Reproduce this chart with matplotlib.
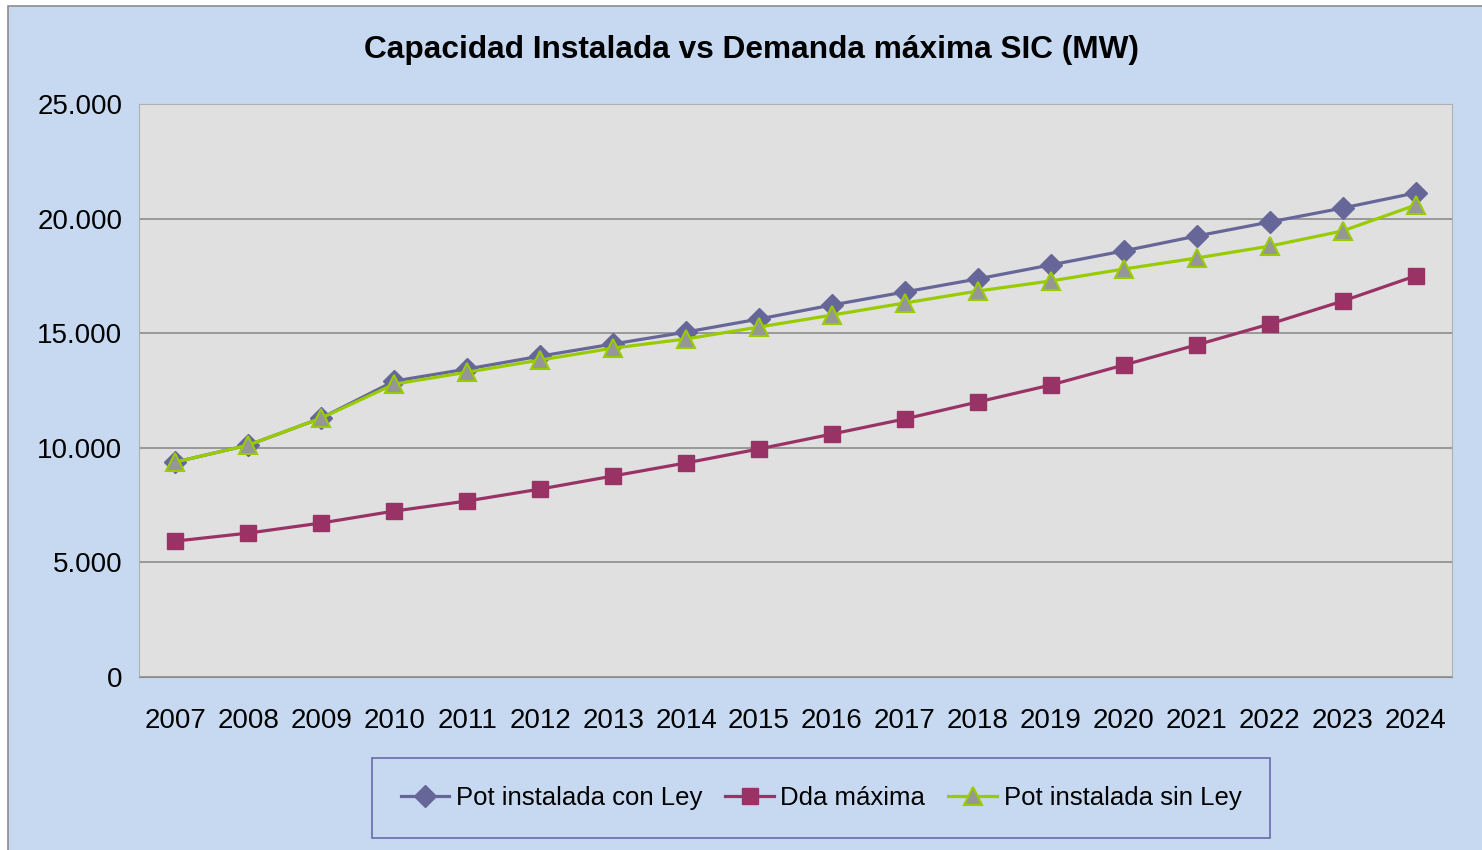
import numpy as np
import matplotlib
matplotlib.use('Agg')
import matplotlib.pyplot as plt
from matplotlib.patches import Rectangle
from matplotlib.ticker import FuncFormatter

# Datos
anios = ['2007', '2008', '2009', '2010', '2011', '2012', '2013', '2014', '2015',
         '2016', '2017', '2018', '2019', '2020', '2021', '2022', '2023', '2024']
pot_con_ley = [9380, 10120, 11300, 12910, 13440, 14000, 14530, 15050, 15620,
               16230, 16800, 17370, 17980, 18590, 19240, 19850, 20460, 21120]
dda_maxima = [5930, 6280, 6720, 7240, 7680, 8200, 8770, 9340, 9950,
              10600, 11260, 12000, 12740, 13610, 14490, 15400, 16400, 17500]
pot_sin_ley = [9380, 10120, 11300, 12780, 13300, 13830, 14350, 14750, 15270,
               15790, 16320, 16840, 17280, 17800, 18280, 18800, 19460, 20590]

plt.rcParams['font.family'] = ['Liberation Sans', 'DejaVu Sans']

W, H = 1482, 850
fig = plt.figure(figsize=(W / 100, H / 100), dpi=100, facecolor='white')

# fondo azul del area del grafico
fig.patches.append(Rectangle((8 / W, -0.05), 1.1, 1 - 6 / H + 0.05,
                             transform=fig.transFigure, facecolor='#C6D9F1',
                             edgecolor='#8C8C8C', linewidth=1.2, zorder=-10))

ax = fig.add_axes([139 / W, 1 - 677 / H, (1452 - 139) / W, (677 - 104) / H])
ax.set_facecolor('#E0E0E0')

x = np.arange(len(anios))
ax.plot(x, pot_con_ley, color='#666699', linewidth=2.3, marker='D', markersize=11,
        markerfacecolor='#666699', markeredgecolor='#666699',
        label='Pot instalada con Ley', zorder=3)
ax.plot(x, dda_maxima, color='#993366', linewidth=2.3, marker='s', markersize=11,
        markerfacecolor='#993366', markeredgecolor='#993366',
        label='Dda máxima', zorder=3)
ax.plot(x, pot_sin_ley, color='#99CC00', linewidth=2.3, marker='^', markersize=13.5,
        markerfacecolor='#969696', markeredgecolor='#99CC00', markeredgewidth=1.5,
        label='Pot instalada sin Ley', zorder=4)

ax.set_xlim(-0.5, len(anios) - 0.5)
ax.set_ylim(0, 25000)
ax.set_yticks(np.arange(0, 25001, 5000))
ax.yaxis.set_major_formatter(FuncFormatter(lambda v, p: f'{int(v):,}'.replace(',', '.')))
ax.set_xticks(x)
ax.set_xticklabels(anios)
ax.tick_params(axis='both', labelsize=20, length=0, colors='black')
ax.tick_params(axis='x', pad=22)
ax.tick_params(axis='y', pad=12)
ax.grid(axis='y', color='#8C8C8C', linewidth=1.2)
ax.set_axisbelow(True)
for s in ['top', 'right', 'left']:
    ax.spines[s].set_color('#B0B0B0')
ax.spines['bottom'].set_color('#8C8C8C')

fig.text(752 / W, 1 - 50 / H, 'Capacidad Instalada vs Demanda máxima SIC (MW)',
         ha='center', va='center', fontsize=22.8, fontweight='bold')

leg = fig.legend(loc='center', ncol=3,
                 bbox_to_anchor=(821 / W, 1 - 798 / H),
                 fontsize=18.5, frameon=True, fancybox=False,
                 facecolor='#C6D9F1', edgecolor='#6B6BA8', framealpha=1,
                 handlelength=1.9, handletextpad=0.25, columnspacing=0.9,
                 borderpad=1.1)
leg.get_frame().set_linewidth(1.2)

fig.savefig('out.png', dpi=100, facecolor='white')
